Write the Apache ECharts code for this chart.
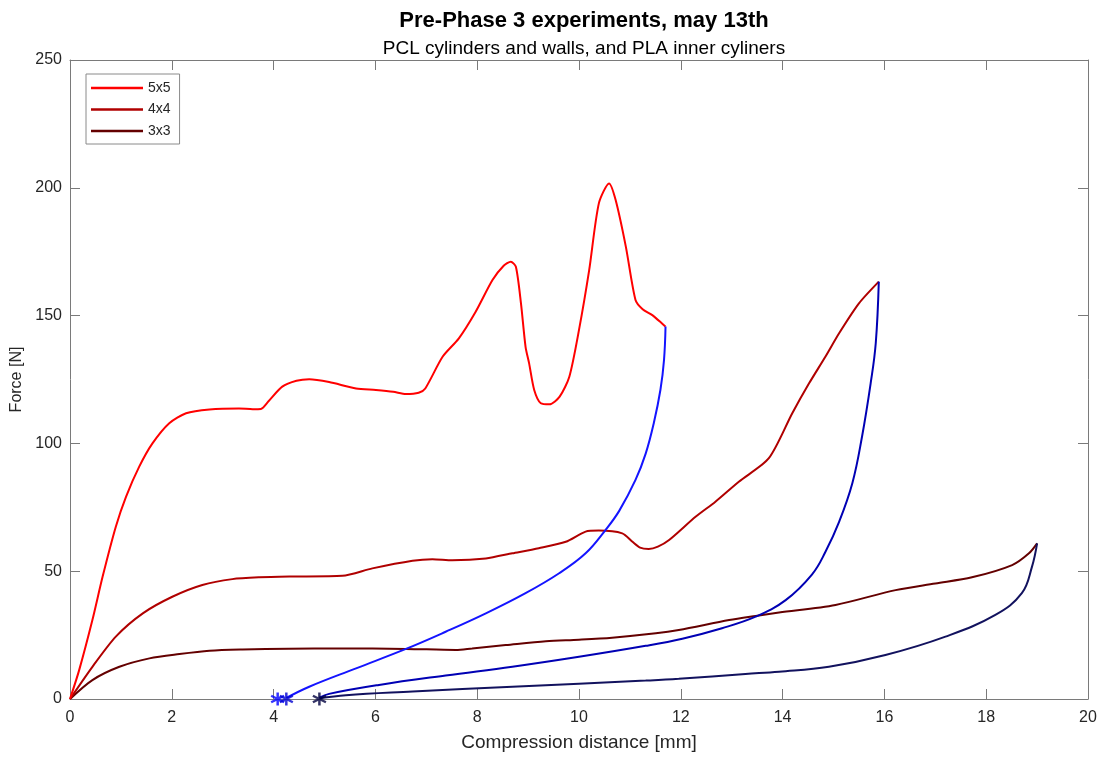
<!DOCTYPE html>
<html>
<head>
<meta charset="utf-8">
<script src="https://cdn.jsdelivr.net/npm/echarts@6/dist/echarts.min.js"></script>
<style>
  html, body { margin: 0; padding: 0; background: #fff; }
  #chart { width: 1110px; height: 758px; }
</style>
</head>
<body>
<div id="chart"></div>
<script>
// Compression tests: loading curves [mm, N]
const load5x5 = [[0,0],[0.18,11.3],[0.44,30.9],[0.64,47.8],[0.90,67.4],[1.10,79.1],[1.36,90.9],[1.62,100],[1.95,107.9],[2.28,111.8],[2.74,113.3],[3.32,113.7],[3.59,113.4],[3.75,113.5],[3.9,116.5],[4.17,122.2],[4.45,124.5],[4.70,125.1],[5.09,124.0],[5.62,121.5],[6.01,120.9],[6.35,120.2],[6.60,119.3],[6.85,119.8],[6.98,121.5],[7.32,133.9],[7.64,141.1],[7.97,151.5],[8.30,163.9],[8.52,169.5],[8.66,171.1],[8.76,169.1],[8.86,154.8],[8.95,137.8],[9.02,131.3],[9.12,120.9],[9.25,115.7],[9.42,115.3],[9.62,118.3],[9.81,126.1],[10.0,144.4],[10.2,167.8],[10.39,193.9],[10.59,201.7],[10.72,195.2],[10.92,177],[11.11,156.1],[11.25,152.5],[11.44,150.2],[11.70,145.7]];
const load4x4 = [[0,0],[0.44,12.6],[0.90,24.4],[1.43,33.5],[2.01,40],[2.60,44.6],[3.19,46.9],[3.72,47.6],[4.31,47.9],[5.35,48.2],[5.94,51.1],[6.73,54.1],[7.12,54.7],[7.51,54.3],[8.17,55],[8.69,57],[9.21,59],[9.74,61.5],[10.13,65.5],[10.39,65.9],[10.85,64.8],[11.05,61.5],[11.2,59.2],[11.37,58.7],[11.55,59.6],[11.77,62.2],[12.29,71.3],[12.68,77.2],[13.14,85],[13.73,94.2],[14.19,111.8],[14.52,123.5],[14.84,133.9],[15.11,143.1],[15.50,154.8],[15.89,163.3]];
const load3x3 = [[0,0],[0.44,7.4],[0.97,12.6],[1.56,15.9],[2.15,17.6],[2.74,18.9],[3.39,19.4],[4.3,19.7],[5.29,19.8],[6.60,19.6],[7.58,19.2],[7.90,19.8],[8.56,21.1],[9.35,22.6],[10.0,23.2],[10.65,24.0],[11.51,25.7],[11.96,27],[12.95,30.9],[13.47,32.5],[13.93,33.8],[15.04,36.8],[16.22,42.6],[17.0,45.2],[17.72,47.6],[18.51,52.4],[18.84,57],[19.0,60.9]];

// Unloading curves, from the turning point back to zero force
const unload5x5 = [[11.70,145.7],[11.67,132.6],[11.60,121],[11.47,108],[11.31,96],[11.11,85.7],[10.79,73.6],[10.52,66.1],[10.13,57],[9.61,49.2],[8.95,41.4],[8.17,33.5],[7.38,26.3],[6.60,19.6],[5.62,12.0],[4.70,4.8],[4.25,0.4]];
const unload4x4 = [[15.89,163.3],[15.83,139.2],[15.73,123.5],[15.56,102.6],[15.37,84.4],[15.11,69.3],[14.84,57.5],[14.58,48.8],[14.06,38.7],[13.47,32.2],[12.81,27.7],[12.03,23.6],[11.31,20.8],[10.0,16.5],[8.69,12.6],[7.38,9.2],[6.07,5.5],[5.09,2.0],[4.90,0.5]];
const unload3x3 = [[19.0,60.9],[18.90,51.8],[18.70,41.4],[18.18,32.9],[17.20,24.4],[16.02,17.2],[14.91,12.6],[13.93,10.7],[13.27,9.8],[11.96,7.9],[11.31,7.2],[8.69,4.8],[6.73,2.9],[5.42,1.5],[4.90,0.3]];

// Rest positions after unloading
const restPoints = [[4.08,0],[4.25,0],[4.90,0]];
const restColors = ['#0000ff','#0000d0','#000040'];

const seriesNames = ['5x5','4x4','3x3'];
const titleText = 'Pre-Phase 3 experiments, may 13th';
const subtitleText = 'PCL cylinders and walls, and PLA inner cyliners';
const xTitle = 'Compression distance [mm]';
const yTitle = 'Force [N]';

const FONT = '"Liberation Sans", Arial, Helvetica, sans-serif';
const AX = '#7a7a7a';
const TXT = '#262626';

function lineSeries(name, data, color, z, smooth) {
  return {
    name: name, type: 'line', data: data, symbol: 'none', smooth: smooth,
    lineStyle: { color: color, width: 2 }, itemStyle: { color: color },
    z: z, animation: false, silent: true
  };
}

const axisCommon = {
  axisLine: { show: true, onZero: false, lineStyle: { color: AX, width: 1 } },
  axisTick: { show: true, inside: true, length: 10, lineStyle: { color: AX } },
  splitLine: { show: false },
  axisLabel: { color: TXT, fontSize: 16, fontFamily: FONT },
  nameTextStyle: { color: TXT, fontSize: 19, fontFamily: FONT }
};

const chart = echarts.init(document.getElementById('chart'), null, { renderer: 'canvas' });
chart.setOption({
  backgroundColor: '#ffffff',
  animation: false,
  title: [
    { text: titleText, left: 579, top: 5, textAlign: 'center',
      textStyle: { fontSize: 22, fontWeight: 'bold', color: '#000', fontFamily: FONT } },
    { text: subtitleText, left: 579, top: 34, textAlign: 'center',
      textStyle: { fontSize: 19, fontWeight: 'normal', color: '#000', fontFamily: FONT } }
  ],
  legend: {
    data: seriesNames, orient: 'vertical', left: 86, top: 74, icon: 'rect',
    backgroundColor: '#fff', borderColor: '#8a8a8a', borderWidth: 1,
    padding: [7, 9, 6, 5], itemWidth: 52, itemHeight: 2.5, itemGap: 7.5,
    textStyle: { fontSize: 14, lineHeight: 14, color: TXT, fontFamily: FONT }
  },
  grid: { left: 70, right: 22, top: 60, bottom: 59, containLabel: false },
  xAxis: [
    Object.assign({}, axisCommon, { type: 'value', min: 0, max: 20, interval: 2, position: 'bottom',
      name: xTitle, nameLocation: 'middle', nameGap: 34,
      axisLabel: Object.assign({}, axisCommon.axisLabel, { margin: 11 }) }),
    Object.assign({}, axisCommon, { type: 'value', min: 0, max: 20, interval: 2, position: 'top',
      axisLabel: { show: false } })
  ],
  yAxis: [
    Object.assign({}, axisCommon, { type: 'value', min: 0, max: 250, interval: 50, position: 'left',
      name: yTitle, nameLocation: 'middle', nameGap: 43,
      nameTextStyle: { color: TXT, fontSize: 16, fontFamily: FONT },
      axisLabel: Object.assign({}, axisCommon.axisLabel, { margin: 8 }) }),
    Object.assign({}, axisCommon, { type: 'value', min: 0, max: 250, interval: 50, position: 'right',
      axisLabel: { show: false } })
  ],
  series: [
    lineSeries('5x5', load5x5, '#ff0000', 5, 0.25),
    lineSeries('4x4', load4x4, '#b00000', 4, 0.25),
    lineSeries('3x3', load3x3, '#640000', 3, 0.3),
    lineSeries('5x5 unloading', unload5x5, '#1414ff', 6, 0.4),
    lineSeries('4x4 unloading', unload4x4, '#0000b4', 6, 0.4),
    lineSeries('3x3 unloading', unload3x3, '#12125e', 6, 0.4),
    {
      name: 'rest', type: 'scatter',
      data: restPoints.map(function (p, i) {
        return { value: p, itemStyle: { color: 'none', borderColor: restColors[i], borderWidth: 2.5 } };
      }),
      symbol: 'path://M0,-10L0,10M-8.7,-5L8.7,5M-8.7,5L8.7,-5',
      symbolSize: 13, z: 7, silent: true, animation: false
    }
  ]
});
</script>
</body>
</html>
